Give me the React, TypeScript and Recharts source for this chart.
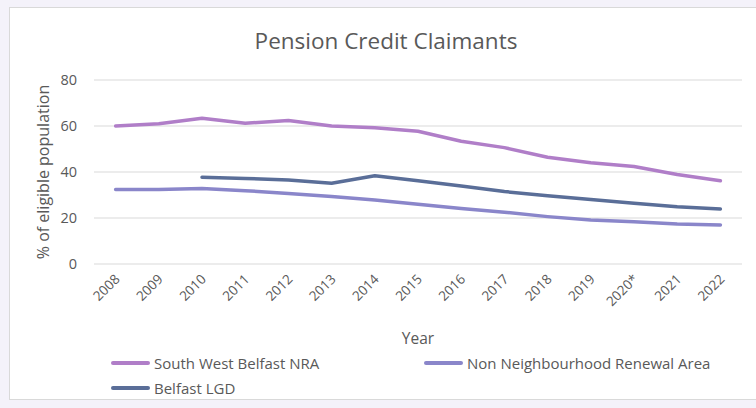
import React from "react";
import { CartesianGrid, Label, Line, LineChart, XAxis, YAxis } from "recharts";

const years = ["2008", "2009", "2010", "2011", "2012", "2013", "2014", "2015", "2016", "2017", "2018", "2019", "2020*", "2021", "2022"];
const swBelfastNra = [60, 61, 63.4, 61.2, 62.4, 60, 59.2, 57.7, 53.4, 50.6, 46.4, 44, 42.4, 38.9, 36.2];
const nonNra = [32.4, 32.4, 32.8, 31.9, 30.7, 29.3, 27.8, 26, 24.1, 22.5, 20.6, 19.1, 18.4, 17.4, 17];
const belfastLgd = [null, null, 37.7, 37.2, 36.5, 35.1, 38.4, 36.2, 33.9, 31.5, 29.7, 28, 26.4, 24.9, 23.9];
const yTicks = [0, 20, 40, 60, 80];

const series = [
  { key: "sw", name: "South West Belfast NRA", color: "#B07EC8" },
  { key: "nnra", name: "Non Neighbourhood Renewal Area", color: "#8A86CA" },
  { key: "lgd", name: "Belfast LGD", color: "#5A6E98" },
];

const data = years.map((year, i) => ({
  year,
  sw: swBelfastNra[i],
  nnra: nonNra[i],
  lgd: belfastLgd[i],
}));

const font = "'Open Sans', sans-serif";
const textColor = "#595959";

function XTick({ x, y, payload }: any) {
  const tx = x + 5;
  const ty = y + 8;
  return (
    <text
      x={tx}
      y={ty}
      transform={`rotate(-45 ${tx} ${ty})`}
      textAnchor="end"
      fontSize={13.5}
      fill={textColor}
      fontFamily={font}
    >
      {payload.value}
    </text>
  );
}

export default function App() {
  return (
    <div style={{ position: "absolute", left: 0, top: 0, width: 756, height: 408, background: "#F4F2FA", overflow: "hidden", fontFamily: font }}>
      <div style={{ position: "absolute", left: 9, top: 7, width: 760, height: 393, boxSizing: "border-box", border: "1px solid #D9D9D9", background: "#fff" }} />
      <div style={{ position: "absolute", left: 0, top: 25, width: 772, textAlign: "center", fontSize: 22.5, color: textColor }}>
        Pension Credit Claimants
      </div>
      <div style={{ position: "absolute", left: 0, top: 0 }}>
        <LineChart width={756} height={408} data={data} margin={{ top: 80, right: 14, left: 34, bottom: 84 }}>
          <CartesianGrid vertical={false} stroke="#D9D9D9" strokeWidth={1} />
          <XAxis
            dataKey="year"
            axisLine={false}
            tickLine={false}
            interval={0}
            height={60}
            padding={{ left: 21.6, right: 21.6 }}
            tick={<XTick />}
          >
            <Label value="Year" position="insideBottom" offset={-20} fontSize={15.5} fill={textColor} fontFamily={font} />
          </XAxis>
          <YAxis
            domain={[0, 80]}
            ticks={yTicks}
            width={60}
            axisLine={false}
            tickLine={false}
            tickMargin={11}
            tick={{ fontSize: 14.5, fill: textColor, fontFamily: font }}
          >
            <Label value="% of eligible population" angle={-90} position="insideLeft" offset={0} dx={9} fontSize={16} fill={textColor} fontFamily={font} style={{ textAnchor: "middle" }} />
          </YAxis>
          {series.map((s) => (
            <Line
              key={s.key}
              dataKey={s.key}
              name={s.name}
              stroke={s.color}
              strokeWidth={3.5}
              strokeLinecap="round"
              strokeLinejoin="round"
              dot={false}
              activeDot={false}
              isAnimationActive={false}
            />
          ))}
        </LineChart>
      </div>
      {series.map((s, i) => {
        const left = i === 1 ? 424 : 111;
        const top = i === 2 ? 388 : 363;
        return (
          <div key={s.key} style={{ position: "absolute", left, top: top - 10, height: 20, display: "flex", alignItems: "center", fontSize: 15, color: textColor }}>
            <span style={{ display: "inline-block", width: 39, height: 4, borderRadius: 2, background: s.color, marginRight: 4 }} />
            {s.name}
          </div>
        );
      })}
    </div>
  );
}
